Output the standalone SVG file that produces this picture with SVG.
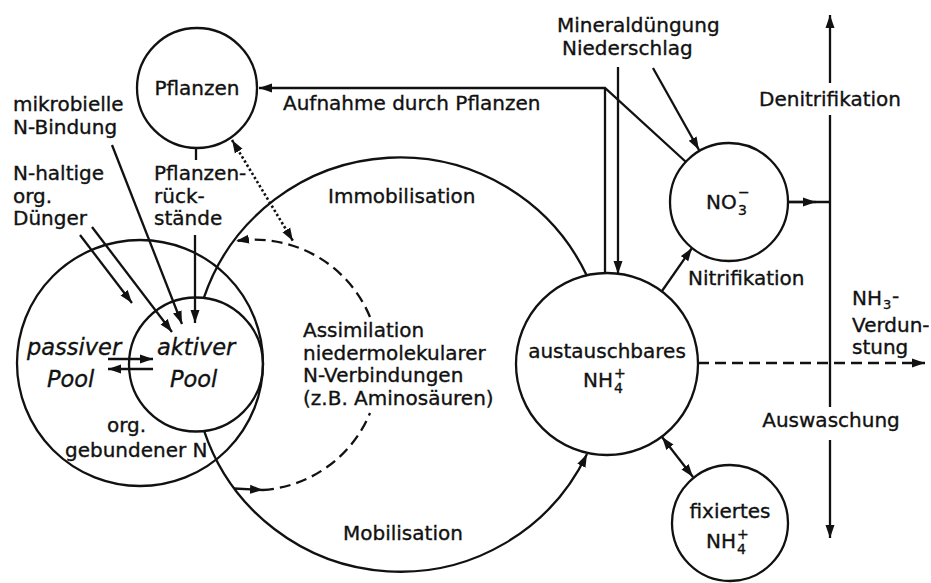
<svg xmlns="http://www.w3.org/2000/svg" width="931" height="583" viewBox="0 0 931 583">
<style>
.t{font-family:"DejaVu Sans","Liberation Sans",sans-serif;font-size:20px;fill:#111;stroke:#111;stroke-width:0.35}
.c{text-anchor:middle}
.i{font-style:italic;font-size:22.5px}
.s{font-size:14px}
.s2{font-size:13px}
.n{fill:none;stroke:#111;stroke-width:2.3}
.ln{fill:none;stroke:#111;stroke-width:2.3}
.a{marker-end:url(#ah)}
.d{stroke-dasharray:11 6}
.dt{stroke-dasharray:2.4 2.4;stroke-width:2.6}
</style>
<defs>
<marker id="ah" markerUnits="userSpaceOnUse" markerWidth="14" markerHeight="11" refX="13" refY="5" orient="auto-start-reverse" viewBox="0 0 14 11">
<path d="M0,0.5 L13,5 L0,9.5 z" fill="#111"/>
</marker>
</defs>
<rect width="931" height="583" fill="#fff"/>

<g id="connectors">
<path class="ln a" d="M686,162 L605,88 L259,88"/>
<path class="ln" d="M605,273 L605,88"/>
<path class="ln a" d="M618,67 L618,274"/>
<path class="ln a" d="M653,68 L699,150"/>
<path class="ln a" d="M662,291 L692,248"/>
<path class="ln a" d="M662,437 L693,477" style="marker-start:url(#ah)"/>
<path class="ln" d="M788,202 L830,202"/>
<path class="ln a" d="M788,202 L816,202"/>
<path class="ln a" d="M830,83 L830,15"/>
<path class="ln" d="M830,115 L830,407"/>
<path class="ln a" d="M830,440 L830,538"/>
<path class="ln d a" d="M698,363 L925,363"/>
<path class="ln" d="M204,297.4 A207,207 0 0 1 587,276"/>
<path class="ln a" d="M204,430.6 A207,207 0 0 0 587,454"/>
<path class="ln a" d="M234,488.5 L263,490"/>
<path class="ln d" d="M263,490 A125,125 0 0 0 370,413"/>
<path class="ln d a" d="M370,317 A125,125 0 0 0 236,241"/>
<path class="ln dt a" d="M232,140 L293,241" style="marker-start:url(#ah)"/>
<path class="ln a" d="M112,145 L182,324"/>
<path class="ln a" d="M92,227 L172,332"/>
<path class="ln a" d="M80,235 L132,303"/>
<path class="ln a" d="M195,235 L195,323"/>
<path class="ln" d="M196,148 L196,160"/>
<path class="ln a" d="M108,359 L153,359"/>
<path class="ln a" d="M153,369 L108,369"/>
</g>

<g id="pflanzen">
<circle class="n" cx="197" cy="88" r="60"/>
<text class="t c" x="197" y="95">Pflanzen</text>
</g>

<g id="pools">
<circle class="n" cx="140" cy="363" r="123"/>
<circle class="n" cx="196" cy="364.5" r="67"/>
<text class="t i" x="27" y="355">passiver</text>
<text class="t i" x="47" y="387">Pool</text>
<text class="t i" x="157" y="355">aktiver</text>
<text class="t i" x="170" y="387">Pool</text>
<text class="t" x="107" y="432">org.</text>
<text class="t" x="65" y="457">gebundener N</text>
</g>

<g id="nh4">
<circle class="n" cx="607" cy="364" r="91"/>
<text class="t c" x="607" y="358">austauschbares</text>
<text class="t" x="583" y="387">NH<tspan class="s" x="614" y="393">4</tspan><tspan class="s" x="614" y="378">+</tspan></text>
</g>

<g id="no3">
<circle class="n" cx="729" cy="202" r="59"/>
<text class="t" x="706" y="209">NO<tspan class="s" x="738" y="215">3</tspan><tspan class="s" x="738" y="197">−</tspan></text>
</g>

<g id="fixiert">
<circle class="n" cx="730" cy="523" r="58"/>
<text class="t c" x="730" y="518">fixiertes</text>
<text class="t" x="706" y="548">NH<tspan class="s" x="737" y="554">4</tspan><tspan class="s" x="737" y="539">+</tspan></text>
</g>

<g id="labels">
<text class="t" x="13" y="111">mikrobielle</text>
<text class="t" x="13" y="134">N-Bindung</text>
<text class="t" x="13" y="180">N-haltige</text>
<text class="t" x="13" y="203">org.</text>
<text class="t" x="13" y="225">Dünger</text>
<text class="t" x="154" y="180">Pflanzen-</text>
<text class="t" x="154" y="203">rück-</text>
<text class="t" x="154" y="225">stände</text>
<text class="t" x="283" y="110">Aufnahme durch Pflanzen</text>
<text class="t" x="557" y="32">Mineraldüngung</text>
<text class="t" x="562" y="55">Niederschlag</text>
<text class="t c" x="830" y="106">Denitrifikation</text>
<text class="t c" x="831" y="427">Auswaschung</text>
<text class="t" x="688" y="285">Nitrifikation</text>
<text class="t" x="852" y="305">NH<tspan class="s2" x="883" y="309">3</tspan><tspan x="892" y="303">-</tspan></text>
<text class="t" x="852" y="332">Verdun-</text>
<text class="t" x="852" y="354">stung</text>
<text class="t" x="328" y="203">Immobilisation</text>
<text class="t" x="343" y="540">Mobilisation</text>
<text class="t" x="303" y="337">Assimilation</text>
<text class="t" x="303" y="360">niedermolekularer</text>
<text class="t" x="303" y="382">N-Verbindungen</text>
<text class="t" x="303" y="405">(z.B. Aminosäuren)</text>
</g>
</svg>
